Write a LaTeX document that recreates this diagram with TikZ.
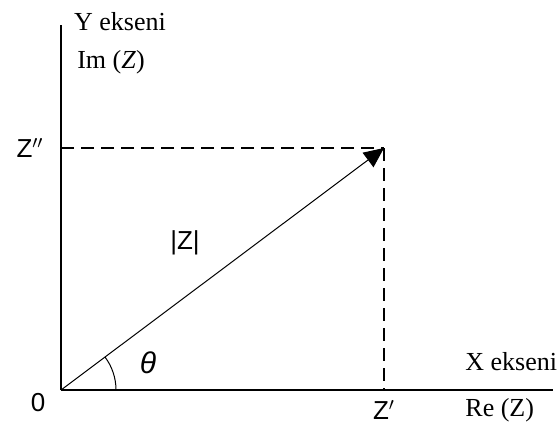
\documentclass[tikz,border=0pt]{standalone}
\usepackage{fontspec}
\setmainfont{Liberation Serif}
\newfontfamily\arialf{Liberation Sans}
\usetikzlibrary{arrows.meta}

\begin{document}
\begin{tikzpicture}[
    x=0.5pt, y=-0.5pt,
    axis/.style={line width=1pt},
    guide/.style={line width=0.7pt, dash pattern=on 6.5pt off 3.5pt},
    lbl/.style={inner sep=0pt, font=\fontsize{13}{15}\selectfont},
    sym/.style={inner sep=0pt, font=\arialf\fontsize{13}{15}\selectfont}
  ]
    \useasboundingbox[fill=white] (0,0) rectangle (560,440);

    \coordinate (O) at (61,390);
    \coordinate (P) at (384,148);
    \coordinate (ytop) at (61,25);
    \coordinate (xend) at (553,390);
    \coordinate (yz) at (61,148);
    \coordinate (xz) at (384,390);

    % axes
    \draw[axis] (O) -- (ytop);
    \draw[axis] (O) -- (xend);

    % projections
    \draw[guide] (yz) -- (P);
    \draw[guide] (P) -- (xz);

    % modulus vector and angle
    \draw[line width=0.5pt, -{Triangle[length=10pt, width=9pt]}] (O) -- (P);
    \draw[line width=0.5pt] ([xshift=27.5pt]O) arc[start angle=0, end angle=36.9, radius=27.5pt];

    \node[lbl] (ylab) at (120,22) {Y ekseni};
    \node[lbl] (imlab) at (111,62) {Im (\textit{Z})};
    \node[lbl, anchor=west] (xlab) at (465,362) {X ekseni};
    \node[lbl, anchor=west] (relab) at (465,410) {Re (Z)};

    \node[sym] (zpp) at (30,148) {Z$''$};
    \node[sym] (zp) at (384,410) {Z$'$};
    \node[sym] (zmod) at (185,243) {|Z|};
    \node[sym] (orig) at (38,403) {0};
    \node[sym, font=\arialf\itshape\fontsize{15}{17}\selectfont] (th) at (148,363) {θ};
  \end{tikzpicture}
\end{document}
